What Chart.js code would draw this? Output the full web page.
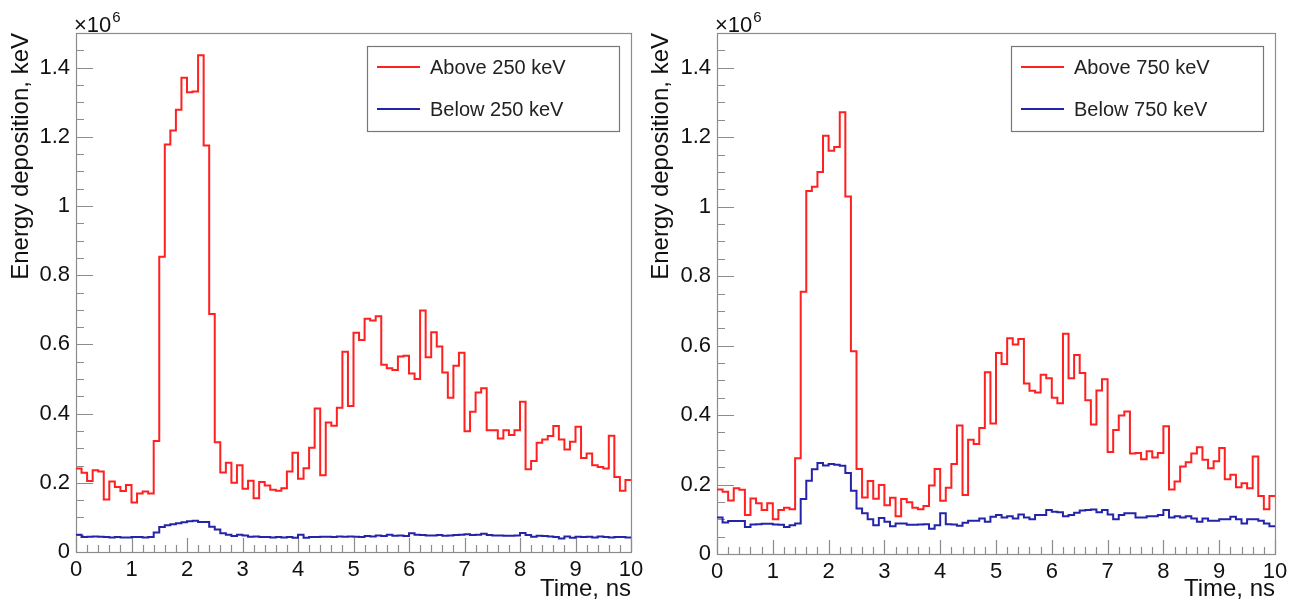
<!doctype html>
<html>
<head>
<meta charset="utf-8">
<title>Energy deposition vs time</title>
<script src="https://cdn.jsdelivr.net/npm/chart.js"></script>
<style>
  body { margin: 0; background: #fff; }
  #wrap { position: relative; width: 1301px; height: 607px; }
  canvas { position: absolute; top: 0; }
</style>
</head>
<body>
<div id="wrap">
  <canvas id="leftChart" width="650" height="607" style="left:0px"></canvas>
  <canvas id="rightChart" width="661" height="607" style="left:640px"></canvas>
</div>
<script>
// histogram bins: 100 bins of 0.1 ns from 0 to 10 ns, values in units of 10^6 keV
var binStart = 0;
var binWidth = 0.1;

var above250 = [
  0.241, 0.229, 0.205, 0.236, 0.233, 0.152, 0.204, 0.188, 0.176, 0.194,
  0.143, 0.169, 0.175, 0.169, 0.321, 0.853, 1.178, 1.218, 1.278, 1.371,
  1.329, 1.331, 1.436, 1.175, 0.688, 0.317, 0.230, 0.258, 0.200, 0.251,
  0.183, 0.206, 0.155, 0.202, 0.192, 0.180, 0.177, 0.184, 0.233, 0.287,
  0.212, 0.242, 0.301, 0.415, 0.222, 0.374, 0.365, 0.417, 0.579, 0.422,
  0.634, 0.613, 0.674, 0.669, 0.681, 0.541, 0.531, 0.526, 0.565, 0.567,
  0.516, 0.500, 0.698, 0.563, 0.635, 0.594, 0.519, 0.446, 0.538, 0.576,
  0.349, 0.405, 0.461, 0.473, 0.352, 0.352, 0.328, 0.352, 0.338, 0.352,
  0.434, 0.239, 0.263, 0.316, 0.325, 0.335, 0.364, 0.325, 0.296, 0.319,
  0.362, 0.272, 0.285, 0.251, 0.246, 0.241, 0.336, 0.217, 0.177, 0.208
];
var below250 = [
  0.050, 0.043, 0.044, 0.045, 0.044, 0.043, 0.042, 0.043, 0.042, 0.042,
  0.043, 0.043, 0.042, 0.043, 0.056, 0.072, 0.077, 0.080, 0.083, 0.086,
  0.089, 0.090, 0.087, 0.087, 0.073, 0.065, 0.054, 0.050, 0.046, 0.050,
  0.048, 0.044, 0.045, 0.043, 0.043, 0.042, 0.043, 0.042, 0.043, 0.041,
  0.050, 0.041, 0.043, 0.043, 0.044, 0.044, 0.043, 0.045, 0.044, 0.045,
  0.044, 0.043, 0.046, 0.045, 0.048, 0.046, 0.050, 0.047, 0.048, 0.046,
  0.054, 0.050, 0.049, 0.048, 0.048, 0.049, 0.047, 0.048, 0.049, 0.050,
  0.051, 0.049, 0.050, 0.053, 0.049, 0.048, 0.048, 0.047, 0.047, 0.048,
  0.055, 0.049, 0.044, 0.047, 0.046, 0.045, 0.043, 0.039, 0.045, 0.041,
  0.044, 0.043, 0.044, 0.042, 0.045, 0.043, 0.042, 0.043, 0.043, 0.042
];
var above750 = [
  0.186, 0.179, 0.154, 0.189, 0.185, 0.112, 0.160, 0.146, 0.127, 0.146,
  0.100, 0.127, 0.133, 0.129, 0.276, 0.755, 1.045, 1.057, 1.100, 1.204,
  1.161, 1.172, 1.272, 1.029, 0.584, 0.245, 0.163, 0.210, 0.159, 0.199,
  0.140, 0.162, 0.109, 0.158, 0.149, 0.133, 0.129, 0.138, 0.197, 0.245,
  0.153, 0.191, 0.259, 0.370, 0.170, 0.329, 0.317, 0.363, 0.523, 0.376,
  0.579, 0.547, 0.621, 0.603, 0.619, 0.491, 0.470, 0.465, 0.516, 0.506,
  0.450, 0.434, 0.634, 0.506, 0.573, 0.521, 0.443, 0.373, 0.471, 0.503,
  0.294, 0.357, 0.399, 0.410, 0.289, 0.291, 0.273, 0.296, 0.278, 0.291,
  0.368, 0.186, 0.209, 0.252, 0.264, 0.289, 0.307, 0.271, 0.247, 0.267,
  0.305, 0.215, 0.228, 0.192, 0.204, 0.189, 0.281, 0.167, 0.129, 0.167
];
var below750 = [
  0.105, 0.091, 0.095, 0.095, 0.095, 0.078, 0.085, 0.086, 0.087, 0.087,
  0.085, 0.084, 0.078, 0.083, 0.088, 0.158, 0.211, 0.244, 0.262, 0.255,
  0.259, 0.257, 0.254, 0.233, 0.182, 0.131, 0.117, 0.100, 0.083, 0.104,
  0.093, 0.080, 0.088, 0.088, 0.084, 0.084, 0.085, 0.086, 0.073, 0.083,
  0.117, 0.086, 0.085, 0.081, 0.090, 0.096, 0.096, 0.102, 0.093, 0.107,
  0.112, 0.105, 0.109, 0.102, 0.114, 0.105, 0.100, 0.112, 0.112, 0.127,
  0.122, 0.120, 0.109, 0.112, 0.119, 0.125, 0.127, 0.128, 0.120, 0.127,
  0.114, 0.100, 0.112, 0.117, 0.117, 0.105, 0.105, 0.109, 0.109, 0.112,
  0.127, 0.105, 0.109, 0.105, 0.109, 0.102, 0.093, 0.102, 0.096, 0.096,
  0.100, 0.100, 0.107, 0.100, 0.088, 0.100, 0.100, 0.096, 0.088, 0.080
];

var xTicks = [0, 1, 2, 3, 4, 5, 6, 7, 8, 9, 10];
var yTicks = [0, 0.2, 0.4, 0.6, 0.8, 1.0, 1.2, 1.4];
var xMinorStep = 0.2;
var yMinorStep = 0.05;

var FONT = "'Liberation Sans', Arial, sans-serif";

// turn bin contents into step points (left edge of every bin + closing edge)
function toSteps(vals) {
  var pts = vals.map(function (v, i) { return { x: binStart + i * binWidth, y: v }; });
  pts.push({ x: binStart + vals.length * binWidth, y: vals[vals.length - 1] });
  return pts;
}

// ROOT-like frame, inward ticks, legend box and x10^6 exponent
var rootFrame = {
  id: 'rootFrame',
  beforeDatasetsDraw: function (chart) {
    var ctx = chart.ctx, a = chart.chartArea;
    var xs = chart.scales.x, ys = chart.scales.y;
    ctx.save();
    ctx.strokeStyle = '#8c8c8c';
    ctx.lineWidth = 1.2;
    ctx.strokeRect(a.left + 0.5, a.top + 0.5, a.right - a.left, a.bottom - a.top);
    ctx.beginPath();
    var n = Math.round((xs.max - xs.min) / xMinorStep);
    for (var i = 0; i <= n; i++) {
      var v = xs.min + i * xMinorStep;
      var px = Math.round(xs.getPixelForValue(v)) + 0.5;
      var len = Math.abs(v - Math.round(v)) < 1e-6 ? 14 : 7;
      ctx.moveTo(px, a.bottom);
      ctx.lineTo(px, a.bottom - len);
    }
    var m = Math.round((ys.max - ys.min) / yMinorStep);
    for (var j = 0; j <= m; j++) {
      var w = ys.min + j * yMinorStep;
      var py = Math.round(ys.getPixelForValue(w)) + 0.5;
      var major = Math.abs(w / 0.2 - Math.round(w / 0.2)) < 1e-6;
      ctx.moveTo(a.left, py);
      ctx.lineTo(a.left + (major ? 17 : 8), py);
    }
    ctx.stroke();

    ctx.fillStyle = '#111';
    ctx.textBaseline = 'alphabetic';
    ctx.textAlign = 'left';
    ctx.font = '22px ' + FONT;
    ctx.fillText('\u00d710', a.left - 2, 32);
    var wx = ctx.measureText('\u00d710').width;
    ctx.font = '15px ' + FONT;
    ctx.fillText('6', a.left - 2 + wx + 1, 22);
    ctx.restore();
  },
  afterDatasetsDraw: function (chart) {
    var ctx = chart.ctx, a = chart.chartArea;
    var bw = 252, bh = 85;
    var bx = a.right - 12 - bw, by = a.top + 13;
    ctx.save();
    ctx.fillStyle = '#fff';
    ctx.fillRect(bx, by, bw, bh);
    ctx.strokeStyle = '#777';
    ctx.lineWidth = 1.2;
    ctx.strokeRect(bx + 0.5, by + 0.5, bw, bh);
    ctx.font = '20px ' + FONT;
    ctx.textBaseline = 'middle';
    ctx.textAlign = 'left';
    chart.data.datasets.forEach(function (ds, k) {
      var cy = by + 21 + k * 42;
      ctx.strokeStyle = ds.borderColor;
      ctx.lineWidth = 2;
      ctx.beginPath();
      ctx.moveTo(bx + 10, cy);
      ctx.lineTo(bx + 53, cy);
      ctx.stroke();
      ctx.fillStyle = '#222';
      ctx.fillText(ds.label, bx + 63, cy + 1);
    });
    ctx.restore();
  }
};

function makeChart(id, above, below, thr, yAxisWidth, xAxisHeight, padRight) {
  return new Chart(document.getElementById(id), {
    type: 'line',
    data: {
      datasets: [{
        label: 'Above ' + thr + ' keV',
        data: toSteps(above),
        borderColor: '#ff2020',
        borderWidth: 2,
        stepped: true,
        pointRadius: 0,
        fill: false
      }, {
        label: 'Below ' + thr + ' keV',
        data: toSteps(below),
        borderColor: '#2424a8',
        borderWidth: 2,
        stepped: true,
        pointRadius: 0,
        fill: false
      }]
    },
    options: {
      responsive: false,
      animation: false,
      events: [],
      layout: { padding: { top: 33, right: padRight, left: 0, bottom: 0 } },
      plugins: { legend: { display: false }, tooltip: { enabled: false } },
      scales: {
        x: {
          type: 'linear',
          min: 0,
          max: 10,
          grid: { display: false, drawTicks: false },
          border: { display: false },
          afterBuildTicks: function (s) { s.ticks = xTicks.map(function (v) { return { value: v }; }); },
          afterFit: function (s) { s.height = xAxisHeight; },
          ticks: {
            color: '#111',
            padding: 5,
            maxRotation: 0,
            font: { family: FONT, size: 22 },
            callback: function (v) { return String(v); }
          },
          title: {
            display: true,
            text: 'Time, ns',
            align: 'end',
            color: '#111',
            font: { family: FONT, size: 24 },
            padding: { top: 0, bottom: 3 }
          }
        },
        y: {
          min: 0,
          max: 1.5,
          grid: { display: false, drawTicks: false },
          border: { display: false },
          afterBuildTicks: function (s) { s.ticks = yTicks.map(function (v) { return { value: v }; }); },
          afterFit: function (s) { s.width = yAxisWidth; },
          ticks: {
            color: '#111',
            padding: 6,
            font: { family: FONT, size: 22 },
            callback: function (v) { return String(+v.toFixed(1)); }
          },
          title: {
            display: true,
            text: 'Energy deposition, keV',
            align: 'end',
            color: '#111',
            font: { family: FONT, size: 24 },
            padding: { top: 7, bottom: 0 }
          }
        }
      }
    },
    plugins: [rootFrame]
  });
}

makeChart('leftChart', above250, below250, 250, 76, 55, 19);
makeChart('rightChart', above750, below750, 750, 77, 53, 26);
</script>
</body>
</html>
